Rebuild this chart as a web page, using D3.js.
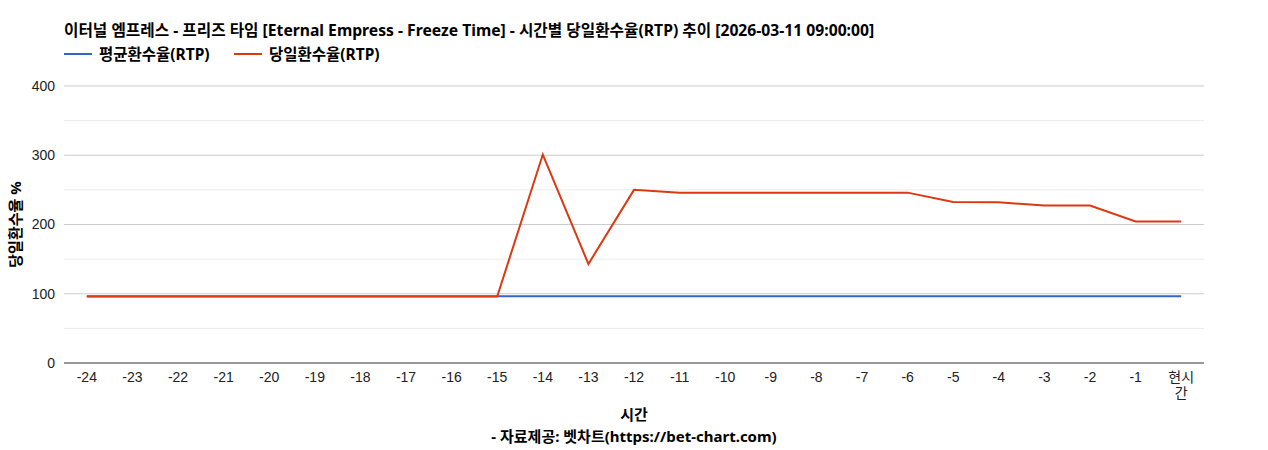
<!DOCTYPE html>
<html>
<head>
<meta charset="utf-8">
<script src="https://cdn.jsdelivr.net/npm/d3@7"></script>
<style>
  body { margin: 0; background: #fff; }
  text { font-family: Arial, "Liberation Sans", "Noto Sans CJK KR", sans-serif; }
  .bold { font-family: "Noto Sans", "Noto Sans CJK KR", sans-serif; font-weight: bold; font-size: 15.5px; fill: #000; }
</style>
</head>
<body>
<div id="chart"></div>
<script>
// data
const categories = ["-24","-23","-22","-21","-20","-19","-18","-17","-16","-15","-14","-13","-12",
  "-11","-10","-9","-8","-7","-6","-5","-4","-3","-2","-1","현시간"];
const avgRtp = [96.5,96.5,96.5,96.5,96.5,96.5,96.5,96.5,96.5,96.5,96.5,96.5,96.5,
  96.5,96.5,96.5,96.5,96.5,96.5,96.5,96.5,96.5,96.5,96.5,96.5];
const dayRtp = [96,96,96,96,96,96,96,96,96,96,301,143,250,
  246,246,246,246,246,246,232.5,232,227.5,227.5,204.5,204.5];
const yTicks = [0, 100, 200, 300, 400];
const yMinor = [50, 150, 250, 350];
const seriesNames = ["평균환수율(RTP)", "당일환수율(RTP)"];
const seriesColors = ["#3366cc", "#dc3912"];

const width = 1268, height = 450;
const margin = {t: 86, b: 87, l: 64, r: 64};

const svg = d3.select("#chart").append("svg")
    .attr("width", width)
    .attr("height", height);

// title
svg.append("text")
    .attr("class", "bold")
    .attr("x", margin.l)
    .attr("y", 36)
    .style("font-size", "15.7px")
    .text("이터널 엠프레스 - 프리즈 타임 [Eternal Empress - Freeze Time] - 시간별 당일환수율(RTP) 추이 [2026-03-11 09:00:00]");

// legend
const legendX = [margin.l, 234];
seriesNames.forEach((name, i) => {
    svg.append("line")
        .attr("x1", legendX[i]).attr("x2", legendX[i] + 28)
        .attr("y1", 54).attr("y2", 54)
        .style("stroke", seriesColors[i])
        .style("stroke-width", 2);
    svg.append("text")
        .attr("class", "bold")
        .attr("x", legendX[i] + 35)
        .attr("y", 60)
        .text(name);
});

const xScale = d3.scaleBand()
    .domain(categories)
    .range([margin.l, width - margin.r])
    .padding(0);

const yScale = d3.scaleLinear()
    .domain([0, 400])
    .range([height - margin.b, margin.t]);

// gridlines
svg.append("g").selectAll("line.minor")
    .data(yMinor).join("line")
    .attr("x1", margin.l).attr("x2", width - margin.r)
    .attr("y1", d => yScale(d)).attr("y2", d => yScale(d))
    .style("stroke", "#ebebeb");
svg.append("g").selectAll("line.major")
    .data(yTicks.filter(d => d > 0)).join("line")
    .attr("x1", margin.l).attr("x2", width - margin.r)
    .attr("y1", d => yScale(d)).attr("y2", d => yScale(d))
    .style("stroke", "#cccccc");

// y axis labels
const yAxis = d3.axisLeft(yScale).tickValues(yTicks).tickSize(0).tickPadding(9);
svg.append("g")
    .attr("transform", `translate(${margin.l}, 0)`)
    .call(yAxis)
    .call(g => g.select(".domain").remove())
    .call(g => g.selectAll("text")
        .style("font-size", "14px")
        .style("fill", "#222")
        .style("font-family", "Arial, 'Liberation Sans', sans-serif"));

// x axis labels
const xAxis = d3.axisBottom(xScale).tickSize(0).tickPadding(9);
svg.append("g")
    .attr("transform", `translate(0, ${height - margin.b})`)
    .call(xAxis)
    .call(g => g.select(".domain").remove())
    .call(g => g.selectAll("text")
        .style("font-size", "14px")
        .style("fill", "#222")
        .each(function (d) {
            if (d === "현시간") {
                const t = d3.select(this).text(null);
                t.append("tspan").attr("x", 0).text("현시");
                t.append("tspan").attr("x", 0).attr("dy", "1.15em").text("간");
            }
        }));

// baseline
svg.append("line")
    .attr("x1", margin.l).attr("x2", width - margin.r)
    .attr("y1", yScale(0)).attr("y2", yScale(0))
    .style("stroke", "#333");

// lines
const line = d3.line()
    .x((d, i) => xScale(categories[i]) + xScale.bandwidth() / 2)
    .y(d => yScale(d));

[avgRtp, dayRtp].forEach((values, i) => {
    svg.append("path")
        .datum(values)
        .attr("d", line)
        .style("fill", "none")
        .style("stroke", seriesColors[i])
        .style("stroke-width", 2);
});

// axis titles
svg.append("text")
    .attr("class", "bold")
    .attr("transform", `translate(21, ${(margin.t + height - margin.b) / 2}) rotate(-90)`)
    .attr("text-anchor", "middle")
    .style("font-size", "15px")
    .text("당일환수율 %");

svg.append("text")
    .attr("class", "bold")
    .attr("x", (margin.l + width - margin.r) / 2)
    .attr("y", 420)
    .attr("text-anchor", "middle")
    .style("font-size", "15px")
    .text("시간");

svg.append("text")
    .attr("class", "bold")
    .attr("x", (margin.l + width - margin.r) / 2)
    .attr("y", 442)
    .attr("text-anchor", "middle")
    .style("font-size", "15px")
    .text("- 자료제공: 벳차트(https://bet-chart.com)");
</script>
</body>
</html>
